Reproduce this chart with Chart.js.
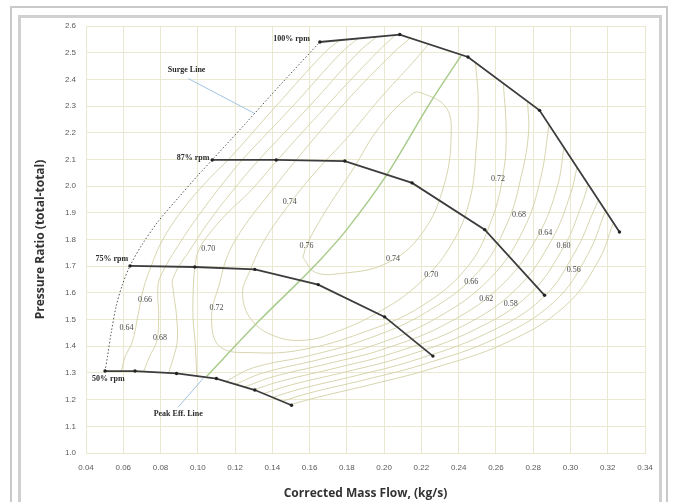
<!DOCTYPE html>
<html>
<head>
<meta charset="utf-8">
<script src="https://cdn.jsdelivr.net/npm/chart.js@4.4.1/dist/chart.umd.min.js"></script>
<style>
    html, body { margin: 0; padding: 0; background: #fff; }
    #wrap { position: relative; width: 673px; height: 502px; overflow: hidden; }
    .frame1 { position: absolute; left: 10px; top: 6px; width: 654px; height: 520px; border: 2px solid #c9c9c9; }
    .frame2 { position: absolute; left: 18px; top: 15px; width: 638px; height: 520px; border: 3px solid #d0d0d0; }
    canvas { position: absolute; left: 0; top: 0; }
</style>
</head>
<body>
<div id="wrap">
    <div class="frame1"></div>
    <div class="frame2"></div>
    <canvas id="mapChart" width="673" height="502"></canvas>
</div>
<script>
// axis ticks
const xTickValues = [0.04, 0.06, 0.08, 0.10, 0.12, 0.14, 0.16, 0.18, 0.20, 0.22, 0.24, 0.26, 0.28, 0.30, 0.32, 0.34];
const yTickValues = [1.0, 1.1, 1.2, 1.3, 1.4, 1.5, 1.6, 1.7, 1.8, 1.9, 2.0, 2.1, 2.2, 2.3, 2.4, 2.5, 2.6];

// speed lines [mass flow, pressure ratio]
const rpm100 = [[0.1655, 2.540], [0.2084, 2.568], [0.2450, 2.484], [0.2834, 2.284], [0.3263, 1.828]];
const rpm87 = [[0.1077, 2.098], [0.1421, 2.098], [0.1789, 2.094], [0.2150, 2.012], [0.2540, 1.837], [0.2861, 1.591]];
const rpm75 = [[0.0636, 1.701], [0.0984, 1.697], [0.1306, 1.688], [0.1646, 1.631], [0.2003, 1.510], [0.2262, 1.363]];
const rpm50 = [[0.0502, 1.307], [0.0663, 1.307], [0.0886, 1.298], [0.1100, 1.279], [0.1306, 1.236], [0.1503, 1.179]];

const surgeLine = [[0.0502, 1.307], [0.0515, 1.36], [0.0535, 1.45], [0.0562, 1.55], [0.0595, 1.63], [0.0636, 1.701],
    [0.0700, 1.78], [0.0790, 1.87], [0.0900, 1.96], [0.1000, 2.04], [0.1077, 2.098], [0.1250, 2.23], [0.1450, 2.385], [0.1655, 2.540]];
const peakEffLine = [[0.1047, 1.287], [0.1333, 1.498], [0.1547, 1.645], [0.1655, 1.722], [0.1797, 1.835], [0.2012, 2.04], [0.2245, 2.31], [0.2414, 2.49]];

// efficiency contours
const eff64L = [[0.059, 1.307], [0.061, 1.36], [0.065, 1.42], [0.068, 1.52], [0.071, 1.62], [0.075, 1.70], [0.081, 1.797], [0.093, 1.922], [0.107, 2.034], [0.1165, 2.10], [0.142, 2.30], [0.168, 2.50], [0.176, 2.546]];
const eff66L = [[0.071, 1.307], [0.074, 1.36], [0.078, 1.42], [0.079, 1.52], [0.0785, 1.60], [0.0797, 1.657], [0.0913, 1.797], [0.1038, 1.922], [0.1162, 2.034], [0.124, 2.10], [0.151, 2.30], [0.177, 2.50], [0.186, 2.553]];
const eff68L = [[0.0845, 1.302], [0.087, 1.36], [0.089, 1.42], [0.0885, 1.52], [0.087, 1.60], [0.0868, 1.657], [0.0966, 1.769], [0.1074, 1.881], [0.1199, 1.993], [0.133, 2.10], [0.160, 2.30], [0.186, 2.50], [0.196, 2.559]];
const eff70L = [[0.0995, 1.289], [0.0985, 1.42], [0.0975, 1.50], [0.0975, 1.60], [0.0985, 1.70], [0.1005, 1.76], [0.106, 1.82], [0.116, 1.90], [0.128, 1.98], [0.143, 2.10], [0.169, 2.30], [0.196, 2.50], [0.206, 2.566]];
const eff72 = [[0.214, 2.555], [0.205, 2.50], [0.180, 2.32], [0.153, 2.10], [0.137, 1.96], [0.124, 1.84], [0.116, 1.74], [0.1118, 1.638], [0.1074, 1.511], [0.1118, 1.399], [0.1295, 1.376],
    [0.156, 1.387], [0.19, 1.455], [0.22, 1.55], [0.245, 1.70], [0.258, 1.88], [0.264, 2.05], [0.2655, 2.2], [0.264, 2.385]];
const eff74 = [[0.224, 2.533], [0.215, 2.46], [0.198, 2.33], [0.180, 2.18], [0.164, 2.06], [0.150, 1.94], [0.136, 1.80], [0.128, 1.683], [0.124, 1.597], [0.1289, 1.498], [0.142, 1.436],
    [0.158, 1.423], [0.1727, 1.45], [0.195, 1.52], [0.218, 1.63], [0.236, 1.78], [0.246, 1.95], [0.2495, 2.15], [0.2505, 2.32], [0.249, 2.463]];
const eff76 = [[0.1564, 1.733], [0.1628, 1.678], [0.176, 1.672], [0.201, 1.71], [0.220, 1.82], [0.232, 2.00], [0.236, 2.20], [0.233, 2.297], [0.2208, 2.347], [0.2153, 2.347],
    [0.1976, 2.222], [0.183, 2.06], [0.168, 1.90], [0.1585, 1.78], [0.1564, 1.733]];
const eff70R = [[0.115, 1.268], [0.13, 1.32], [0.16, 1.365], [0.19, 1.425], [0.222, 1.525], [0.25, 1.675], [0.266, 1.86], [0.274, 2.05], [0.2775, 2.20], [0.277, 2.317]];
const eff68R = [[0.120, 1.257], [0.135, 1.30], [0.165, 1.35], [0.195, 1.405], [0.228, 1.505], [0.257, 1.655], [0.275, 1.84], [0.284, 2.03], [0.2885, 2.23]];
const eff66R = [[0.125, 1.247], [0.140, 1.285], [0.170, 1.335], [0.200, 1.39], [0.235, 1.49], [0.264, 1.635], [0.283, 1.82], [0.293, 2.0], [0.2965, 2.145]];
const eff64R = [[0.130, 1.237], [0.145, 1.27], [0.175, 1.32], [0.205, 1.375], [0.242, 1.475], [0.271, 1.615], [0.290, 1.80], [0.300, 1.97], [0.3035, 2.070]];
const eff62R = [[0.135, 1.222], [0.150, 1.255], [0.180, 1.305], [0.210, 1.36], [0.248, 1.46], [0.278, 1.595], [0.297, 1.78], [0.306, 1.93], [0.3095, 2.006]];
const eff60R = [[0.140, 1.208], [0.155, 1.24], [0.185, 1.29], [0.215, 1.345], [0.254, 1.445], [0.285, 1.58], [0.303, 1.76], [0.312, 1.90], [0.315, 1.948]];
const eff58R = [[0.145, 1.193], [0.160, 1.225], [0.190, 1.275], [0.220, 1.33], [0.260, 1.43], [0.291, 1.565], [0.309, 1.74], [0.3188, 1.907]];
const eff56R = [[0.1495, 1.181], [0.165, 1.21], [0.195, 1.26], [0.225, 1.315], [0.266, 1.415], [0.297, 1.55], [0.315, 1.72], [0.323, 1.862]];

// leader lines for the callouts
const surgeLeader = [[0.0949, 2.403], [0.1306, 2.272]];
const peakLeader = [[0.0895, 1.172], [0.1029, 1.28]];

// text on the map
const speedNames = ['100% rpm', '87% rpm', '75% rpm', '50% rpm', 'Surge Line', 'Peak Eff. Line'];
const speedNamePos = [[0.1503, 2.553], [0.0975, 2.107], [0.0538, 1.727], [0.052, 1.279], [0.094, 2.437], [0.0895, 1.145]];
const effNames = ['0.64', '0.66', '0.68', '0.70', '0.72', '0.74', '0.76', '0.74', '0.70', '0.66', '0.62', '0.58', '0.72', '0.68', '0.64', '0.60', '0.56'];
const effNamePos = [[0.0618, 1.467], [0.0716, 1.573], [0.0797, 1.433], [0.1056, 1.763], [0.110, 1.545], [0.1494, 1.941], [0.1583, 1.777],
    [0.2048, 1.729], [0.2253, 1.667], [0.2468, 1.641], [0.2548, 1.579], [0.2679, 1.558],
    [0.2611, 2.026], [0.2724, 1.894], [0.2865, 1.826], [0.2963, 1.775], [0.3017, 1.685]];

const toXY = pts => pts.map(([x, y]) => ({ x, y }));

const speedSet = (pts) => ({
    data: toXY(pts), showLine: true, tension: 0,
    borderColor: '#3c3c3c', borderWidth: 1.8,
    pointRadius: 1.7, pointBackgroundColor: '#222', pointBorderWidth: 0, order: 1
});
const contourSet = (pts) => ({
    data: toXY(pts), showLine: true, tension: 0.4,
    borderColor: '#d3d0a5', borderWidth: 0.9, pointRadius: 0, order: 6
});

const contours = [eff64L, eff66L, eff68L, eff70L, eff72, eff74, eff76, eff70R, eff68R, eff66R, eff64R, eff62R, eff60R, eff58R, eff56R];

const mapText = {
    id: 'mapText',
    afterDatasetsDraw(chart) {
        const { ctx, scales: { x, y } } = chart;
        ctx.save();
        ctx.textAlign = 'center';
        ctx.textBaseline = 'middle';
        ctx.fillStyle = '#2a2a2a';
        ctx.font = 'bold 8px "Liberation Serif"';
        speedNames.forEach((t, i) => {
            ctx.fillText(t, x.getPixelForValue(speedNamePos[i][0]), y.getPixelForValue(speedNamePos[i][1]));
        });
        ctx.fillStyle = '#4a4a4a';
        ctx.font = '8px "Liberation Serif"';
        effNames.forEach((t, i) => {
            ctx.fillText(t, x.getPixelForValue(effNamePos[i][0]), y.getPixelForValue(effNamePos[i][1]));
        });
        ctx.restore();
    }
};

const gridColor = '#ebe8d2';

new Chart(document.getElementById('mapChart'), {
    type: 'scatter',
    plugins: [mapText],
    data: {
        datasets: [
            speedSet(rpm100), speedSet(rpm87), speedSet(rpm75), speedSet(rpm50),
            { data: toXY(surgeLine), showLine: true, tension: 0.3, borderColor: '#555', borderWidth: 1, borderDash: [1.5, 2], pointRadius: 0, order: 2 },
            { data: toXY(peakEffLine), showLine: true, tension: 0.3, borderColor: '#a9cc8c', borderWidth: 1.5, pointRadius: 0, order: 3 },
            { data: toXY(surgeLeader), showLine: true, borderColor: '#9fc3e4', borderWidth: 1, pointRadius: 0, order: 4 },
            { data: toXY(peakLeader), showLine: true, borderColor: '#9fc3e4', borderWidth: 1, pointRadius: 0, order: 4 },
            ...contours.map(contourSet)
        ]
    },
    options: {
        responsive: false,
        animation: false,
        events: [],
        layout: { padding: { left: 30, top: 26, right: 28, bottom: 1 } },
        plugins: { legend: { display: false }, tooltip: { enabled: false } },
        scales: {
            x: {
                type: 'linear', min: 0.04, max: 0.34,
                afterBuildTicks: s => { s.ticks = xTickValues.map(v => ({ value: v })); },
                afterFit: s => { s.height = 48; },
                grid: { color: gridColor, drawTicks: false },
                border: { color: gridColor },
                ticks: {
                    padding: 10, color: '#5a5a5a', maxRotation: 0, autoSkip: false,
                    font: { family: 'Liberation Sans', size: 8 },
                    callback: v => v.toFixed(2)
                },
                title: {
                    display: true, text: 'Corrected Mass Flow, (kg/s)', color: '#333',
                    padding: { top: 0, bottom: 0 },
                    font: { family: 'Open Sans', size: 12, weight: 'bold' }
                }
            },
            y: {
                type: 'linear', min: 1.0, max: 2.6,
                afterBuildTicks: s => { s.ticks = yTickValues.map(v => ({ value: v })); },
                afterFit: s => { s.width = 56; },
                grid: { color: gridColor, drawTicks: false },
                border: { color: gridColor },
                ticks: {
                    padding: 10, color: '#5a5a5a', autoSkip: false,
                    font: { family: 'Liberation Sans', size: 8 },
                    callback: v => v.toFixed(1)
                },
                title: {
                    display: true, text: 'Pressure Ratio (total-total)', color: '#333',
                    padding: { top: 3, bottom: 0 },
                    font: { family: 'Open Sans', size: 12, weight: 'bold' }
                }
            }
        }
    }
});
</script>
</body>
</html>
